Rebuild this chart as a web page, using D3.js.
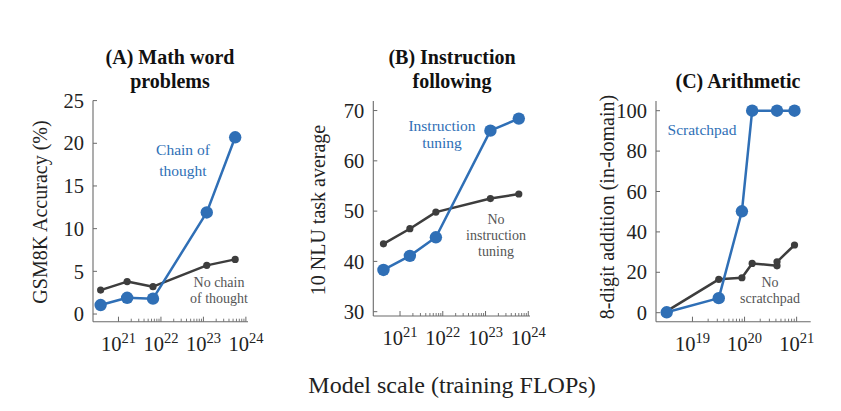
<!DOCTYPE html>
<html>
<head>
<meta charset="utf-8">
<script src="https://cdn.jsdelivr.net/npm/d3@7"></script>
<style>
  html, body { margin: 0; padding: 0; background: #fff; }
  svg { display: block; font-family: "Liberation Serif", "Times New Roman", serif; }
</style>
</head>
<body>
<svg id="chart" width="841" height="411"></svg>
<script>
// ---- Data (x = training FLOPs, y = metric) ----
// (A) Math word problems: GSM8K accuracy (%)
const flopsA = [3.8e20, 1.6e21, 6.5e21, 1.2e23, 5.6e23];
const cotA = [1.05, 1.9, 1.8, 11.9, 20.7];
const noCotA = [2.8, 3.8, 3.2, 5.7, 6.4];

// (B) Instruction following: 10 NLU task average
const flopsB = [4.1e20, 1.7e21, 6.9e21, 1.3e23, 6.0e23];
const instrB = [38.3, 41.1, 44.8, 66.0, 68.4];
const noInstrB = [43.5, 46.5, 49.8, 52.5, 53.4];

// (C) Arithmetic: 8-digit addition (in-domain)
const flopsC = [3.2e18, 3.2e19, 8.9e19, 1.4e20, 4.2e20, 9.1e20];
const scratchC = [0.2, 7.2, 50.2, 100, 100, 100];
const flopsNoC = [3.2e18, 3.2e19, 8.9e19, 1.4e20, 4.2e20, 4.2e20, 9.1e20];
const noScratchC = [0.8, 16.5, 17.3, 24.4, 23.2, 25.2, 33.5];

// Tick labels
const yTicksA = [0, 5, 10, 15, 20, 25];
const yTicksB = [30, 40, 50, 60, 70];
const yTicksC = [0, 20, 40, 60, 80, 100];
const xExpA = [21, 22, 23, 24];
const xExpB = [21, 22, 23, 24];
const xExpC = [19, 20, 21];

// Text
const titles = [["(A) Math word", "problems"], ["(B) Instruction", "following"], ["(C) Arithmetic"]];
const yTitles = ["GSM8K Accuracy (%)", "10 NLU task average", "8-digit addition (in-domain)"];
const xTitle = "Model scale (training FLOPs)";

// ---- Styles ----
const BLUE = "#2f6fb6";
const GRAY = "#3d3d3d";
const AXIS = "#6a6a6a";

const svg = d3.select("#chart");

const panels = [
  {
    series: [{x: flopsA, y: noCotA, c: GRAY, r: 3.6, w: 2.5}, {x: flopsA, y: cotA, c: BLUE, r: 6.2, w: 2.5}],
    xDom: [Math.pow(10, 20.4), Math.pow(10, 24.05)], xR: [93, 248],
    yDom: [-0.9, 25], yR: [321.7, 100.6],
    yTicks: yTicksA, xExp: xExpA,
    title: titles[0], titleX: 170, titleY: [64, 88],
    yTitle: yTitles[0], yTitleX: 47, yTitleY: 212,
    notes: [
      {lines: ["Chain of", "thought"], x: 183, y: 155, c: BLUE, fs: 15.5, lh: 21},
      {lines: ["No chain", "of thought"], x: 219, y: 287, c: "#555", fs: 14, lh: 16}
    ]
  },
  {
    series: [{x: flopsB, y: noInstrB, c: GRAY, r: 3.6, w: 2.5}, {x: flopsB, y: instrB, c: BLUE, r: 6.2, w: 2.5}],
    xDom: [Math.pow(10, 20.375), Math.pow(10, 24.04)], xR: [373.3, 530],
    yDom: [29.14, 71.9], yR: [316, 101],
    yTicks: yTicksB, xExp: xExpB,
    title: titles[1], titleX: 452, titleY: [64, 88],
    yTitle: yTitles[1], yTitleX: 325, yTitleY: 210,
    notes: [
      {lines: ["Instruction", "tuning"], x: 442, y: 131, c: BLUE, fs: 15.5, lh: 17},
      {lines: ["No", "instruction", "tuning"], x: 496, y: 224, c: "#555", fs: 14, lh: 16}
    ]
  },
  {
    series: [{x: flopsNoC, y: noScratchC, c: GRAY, r: 3.6, w: 2.5}, {x: flopsC, y: scratchC, c: BLUE, r: 6.2, w: 2.5}],
    xDom: [Math.pow(10, 18.30), Math.pow(10, 21.27)], xR: [656, 810.7],
    yDom: [-4.46, 104.8], yR: [321.7, 101],
    yTicks: yTicksC, xExp: xExpC,
    title: titles[2], titleX: 738, titleY: [88],
    yTitle: yTitles[2], yTitleX: 614, yTitleY: 207,
    notes: [
      {lines: ["Scratchpad"], x: 702, y: 135, c: BLUE, fs: 15.5, lh: 17},
      {lines: ["No", "scratchpad"], x: 770, y: 287, c: "#555", fs: 14, lh: 16}
    ]
  }
];

panels.forEach(p => {
  const x = d3.scaleLog().domain(p.xDom).range(p.xR);
  const y = d3.scaleLinear().domain(p.yDom).range(p.yR);
  const g = svg.append("g");

  // Title
  const t = g.append("text").attr("text-anchor", "middle")
    .attr("font-weight", "bold").attr("font-size", 20).attr("fill", "#111");
  p.title.forEach((line, i) => {
    t.append("tspan").attr("x", p.titleX).attr("y", p.titleY[i]).text(line);
  });

  // Axes lines
  const x0 = p.xR[0], x1 = p.xR[1], yb = p.yR[0], yt = p.yR[1];
  g.append("line").attr("x1", x0).attr("x2", x0).attr("y1", yt).attr("y2", yb)
    .attr("stroke", AXIS).attr("stroke-width", 1.1);
  g.append("line").attr("x1", x0).attr("x2", x1).attr("y1", yb).attr("y2", yb)
    .attr("stroke", AXIS).attr("stroke-width", 1.1);

  // Y ticks (inward) + labels
  p.yTicks.forEach(v => {
    g.append("line").attr("x1", x0).attr("x2", x0 + 4).attr("y1", y(v)).attr("y2", y(v))
      .attr("stroke", AXIS).attr("stroke-width", 1);
    g.append("text").attr("x", x0 - 9).attr("y", y(v)).attr("dy", "0.35em")
      .attr("text-anchor", "end").attr("font-size", 20.5).attr("fill", "#222").text(v);
  });

  // X ticks: majors and minors between first and last major
  const eMin = d3.min(p.xExp), eMax = d3.max(p.xExp);
  for (let e = eMin; e <= eMax; e++) {
    const v = Math.pow(10, e);
    g.append("line").attr("x1", x(v)).attr("x2", x(v)).attr("y1", yb).attr("y2", yb - 5)
      .attr("stroke", AXIS).attr("stroke-width", 1);
    if (e < eMax) {
      for (let m = 2; m <= 9; m++) {
        const mv = m * v;
        g.append("line").attr("x1", x(mv)).attr("x2", x(mv)).attr("y1", yb).attr("y2", yb - 3)
          .attr("stroke", AXIS).attr("stroke-width", 0.9);
      }
    }
  }
  p.xExp.forEach(e => {
    const tx = g.append("text").attr("x", x(Math.pow(10, e))).attr("y", yb + 29)
      .attr("text-anchor", "middle").attr("font-size", 20.5).attr("fill", "#222");
    tx.append("tspan").text("10");
    tx.append("tspan").attr("font-size", 14.5).attr("dy", -8).text(e);
  });

  // Y title
  g.append("text").attr("transform", `translate(${p.yTitleX},${p.yTitleY}) rotate(-90)`)
    .attr("text-anchor", "middle").attr("font-size", 20).attr("fill", "#222").text(p.yTitle);

  // Series
  p.series.forEach(s => {
    const pts = s.x.map((xv, i) => [x(xv), y(s.y[i])]);
    g.append("path").attr("d", d3.line()(pts)).attr("fill", "none")
      .attr("stroke", s.c).attr("stroke-width", s.w).attr("stroke-linejoin", "round");
    g.selectAll(null).data(pts).enter().append("circle")
      .attr("cx", d => d[0]).attr("cy", d => d[1]).attr("r", s.r).attr("fill", s.c);
  });

  // Annotations
  p.notes.forEach(n => {
    const tt = g.append("text").attr("text-anchor", "middle").attr("font-size", n.fs).attr("fill", n.c);
    n.lines.forEach((line, i) => {
      tt.append("tspan").attr("x", n.x).attr("y", n.y + i * n.lh).text(line);
    });
  });
});

// Shared x title
svg.append("text").attr("x", 452).attr("y", 393).attr("text-anchor", "middle")
  .attr("font-size", 24).attr("fill", "#222").text(xTitle);
</script>
</body>
</html>
